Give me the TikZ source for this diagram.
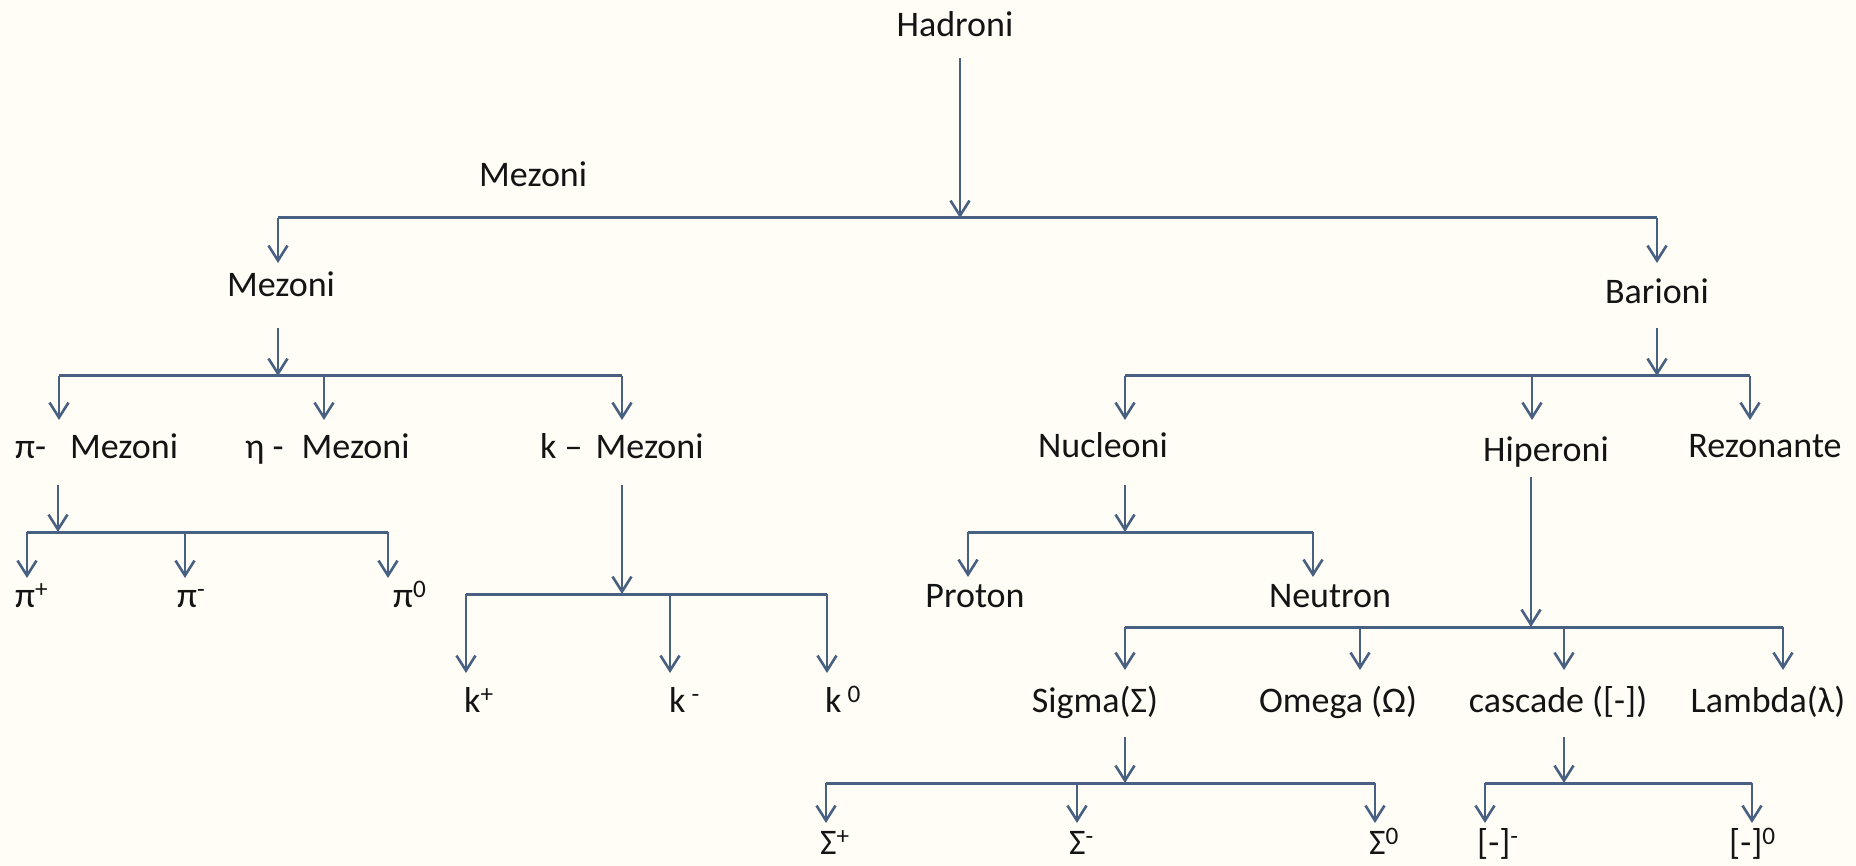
\documentclass[tikz,border=0pt]{standalone}
\usepackage{fontspec}
\setmainfont{Carlito}
\usetikzlibrary{arrows.meta}
\definecolor{bgc}{RGB}{255,253,246}
\definecolor{lc}{RGB}{72,97,130}
\definecolor{tc}{RGB}{20,20,20}
\newcommand{\lbfont}{\fontsize{36}{43}\selectfont}
\tikzset{
  ln/.style={draw=lc, line width=2.6pt},
  barline/.style={draw=lc, line width=3pt},
  arr/.style={draw=lc, line width=2.6pt, -{Straight Barb[length=15pt,width=19pt]}},
  lbl/.style={inner sep=0pt, text=tc, font=\lbfont, anchor=base},
  lblw/.style={inner sep=0pt, text=tc, font=\lbfont, anchor=base west},
}
\begin{document}
\begin{tikzpicture}[x=1pt,y=-1pt]
\fill[bgc] (0,0) rectangle (1856,866);
\useasboundingbox (0,0) rectangle (1856,866);

% ---------- labels ----------
\node[lbl] (had) at (955,37) {Hadroni};
\node[lblw] (mezf) at (479,187) {Mezoni};
\node[lbl] (mez) at (281,297) {Mezoni};
\node[lbl] (bar) at (1657,304) {Barioni};

\node[lblw] (pim) at (15,458) {π-\hspace{24pt}Mezoni};
\node[lblw] (etam) at (245,458) {η -\hspace{18pt}Mezoni};
\node[lblw] (kam) at (540,458) {k –\hspace{13pt}Mezoni};
\node[lbl] (nuc) at (1103,457) {Nucleoni};
\node[lbl] (hip) at (1546,461) {Hiperoni};
\node[lbl] (rez) at (1765,457) {Rezonante};

\node[lblw] (pip) at (15,607) {π\textsuperscript{+}};
\node[lblw] (pin) at (177,607) {π\textsuperscript{-}};
\node[lblw] (pio) at (393,607) {π\textsuperscript{0}};
\node[lbl] (pro) at (975,607) {Proton};
\node[lbl] (neu) at (1330,607) {Neutron};

\node[lblw] (kp) at (464,712) {k\textsuperscript{+}};
\node[lblw] (kn) at (669,712) {k\,\textsuperscript{-}};
\node[lblw] (ko) at (825,712) {k\,\textsuperscript{0}};
\node[lbl] (sig) at (1095,712) {Sigma(Σ)};
\node[lbl] (omg) at (1338,712) {Omega (Ω)};
\node[lbl] (cas) at (1558,712) {cascade ([-])};
\node[lbl] (lam) at (1768,712) {Lambda(λ)};

\node[lblw] (sp) at (820,854) {Σ\textsuperscript{+}};
\node[lblw] (sn) at (1069,854) {Σ\textsuperscript{-}};
\node[lblw] (so) at (1369,854) {Σ\textsuperscript{0}};
\node[lblw] (cn) at (1477,854) {[-]\textsuperscript{-}};
\node[lblw] (co) at (1729,854) {[-]\textsuperscript{0}};

% ---------- coordinates ----------
\coordinate (had-s) at (960,58);   \coordinate (b1c) at (960,218);
\coordinate (b1l) at (278,218);    \coordinate (b1r) at (1657,218);
\coordinate (mez-t) at (278,263);  \coordinate (bar-t) at (1657,263);

\coordinate (mez-s) at (278,328);  \coordinate (b2c) at (278,376);
\coordinate (b2l) at (59,376);     \coordinate (b2m) at (324,376); \coordinate (b2r) at (622,376);
\coordinate (pim-t) at (59,420);   \coordinate (etam-t) at (324,420); \coordinate (kam-t) at (622,420);

\coordinate (bar-s) at (1657,328); \coordinate (b3c) at (1657,376);
\coordinate (b3l) at (1125,376);   \coordinate (b3m) at (1532,376); \coordinate (b3r) at (1750,376);
\coordinate (nuc-t) at (1125,420); \coordinate (hip-t) at (1532,420); \coordinate (rez-t) at (1750,420);

\coordinate (pim-s) at (58,485);   \coordinate (b4c) at (58,532);
\coordinate (b4l) at (27,532);     \coordinate (b4m) at (185,532); \coordinate (b4r) at (388,532);
\coordinate (pip-t) at (27,578);   \coordinate (pin-t) at (185,578); \coordinate (pio-t) at (388,578);

\coordinate (kam-s) at (622,485);  \coordinate (b5c) at (622,594);
\coordinate (b5l) at (466,594);    \coordinate (b5m) at (670,594); \coordinate (b5r) at (827,594);
\coordinate (kp-t) at (466,673);   \coordinate (kn-t) at (670,673); \coordinate (ko-t) at (827,673);

\coordinate (nuc-s) at (1125,485); \coordinate (b6c) at (1125,532);
\coordinate (b6l) at (968,532);    \coordinate (b6r) at (1313,532);
\coordinate (pro-t) at (968,577);  \coordinate (neu-t) at (1313,577);

\coordinate (hip-s) at (1531,477); \coordinate (b7c) at (1531,627);
\coordinate (b7a) at (1125,627);   \coordinate (b7b) at (1360,627); \coordinate (b7d) at (1564,627); \coordinate (b7e) at (1783,627);
\coordinate (sig-t) at (1125,670); \coordinate (omg-t) at (1360,670); \coordinate (cas-t) at (1564,670); \coordinate (lam-t) at (1783,670);

\coordinate (sig-s) at (1125,737); \coordinate (b8c) at (1125,783);
\coordinate (b8l) at (826,783);    \coordinate (b8m) at (1077,783); \coordinate (b8r) at (1375,783);
\coordinate (sp-t) at (826,823);   \coordinate (sn-t) at (1077,823); \coordinate (so-t) at (1375,823);

\coordinate (cas-s) at (1564,737); \coordinate (b9c) at (1564,783);
\coordinate (b9l) at (1485,783);   \coordinate (b9r) at (1752,783);
\coordinate (cn-t) at (1485,823);  \coordinate (co-t) at (1752,823);

% ---------- connectors ----------
\draw[arr] (had-s) -- (b1c);
\draw[barline] (b1l) -- (b1r);
\draw[arr] (b1l) -- (mez-t);
\draw[arr] (b1r) -- (bar-t);

\draw[arr] (mez-s) -- (b2c);
\draw[barline] (b2l) -- (b2r);
\draw[arr] (b2l) -- (pim-t);
\draw[arr] (b2m) -- (etam-t);
\draw[arr] (b2r) -- (kam-t);

\draw[arr] (bar-s) -- (b3c);
\draw[barline] (b3l) -- (b3r);
\draw[arr] (b3l) -- (nuc-t);
\draw[arr] (b3m) -- (hip-t);
\draw[arr] (b3r) -- (rez-t);

\draw[arr] (pim-s) -- (b4c);
\draw[barline] (b4l) -- (b4r);
\draw[arr] (b4l) -- (pip-t);
\draw[arr] (b4m) -- (pin-t);
\draw[arr] (b4r) -- (pio-t);

\draw[arr] (kam-s) -- (b5c);
\draw[barline] (b5l) -- (b5r);
\draw[arr] (b5l) -- (kp-t);
\draw[arr] (b5m) -- (kn-t);
\draw[arr] (b5r) -- (ko-t);

\draw[arr] (nuc-s) -- (b6c);
\draw[barline] (b6l) -- (b6r);
\draw[arr] (b6l) -- (pro-t);
\draw[arr] (b6r) -- (neu-t);

\draw[arr] (hip-s) -- (b7c);
\draw[barline] (b7a) -- (b7e);
\draw[arr] (b7a) -- (sig-t);
\draw[arr] (b7b) -- (omg-t);
\draw[arr] (b7d) -- (cas-t);
\draw[arr] (b7e) -- (lam-t);

\draw[arr] (sig-s) -- (b8c);
\draw[barline] (b8l) -- (b8r);
\draw[arr] (b8l) -- (sp-t);
\draw[arr] (b8m) -- (sn-t);
\draw[arr] (b8r) -- (so-t);

\draw[arr] (cas-s) -- (b9c);
\draw[barline] (b9l) -- (b9r);
\draw[arr] (b9l) -- (cn-t);
\draw[arr] (b9r) -- (co-t);
\end{tikzpicture}
\end{document}
